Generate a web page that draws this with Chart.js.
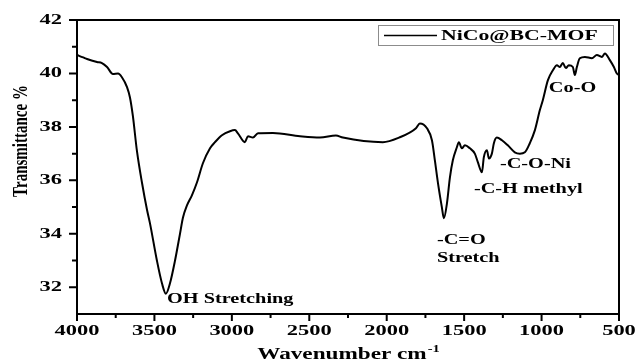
<!DOCTYPE html>
<html>
<head>
<meta charset="utf-8">
<title>FTIR NiCo@BC-MOF</title>
<script src="https://cdn.jsdelivr.net/npm/chart.js@4.4.1/dist/chart.umd.min.js"></script>
<style>
  html, body { margin: 0; padding: 0; background: #fff; }
  #wrap { width: 636px; height: 364px; }
</style>
</head>
<body>
<div id="wrap"><canvas id="ftir"></canvas></div>
<script>
// FTIR spectrum (wavenumber, cm-1 / transmittance, %)
var wavenumber = [
  4000, 3960, 3935, 3871, 3839, 3806, 3768, 3735, 3710, 3677, 3658, 3639, 3613, 3580,
  3548, 3529, 3484, 3451, 3426, 3400, 3367, 3335, 3316, 3290, 3258, 3225, 3187, 3141,
  3109, 3064, 3012, 2980, 2961, 2916, 2896, 2864, 2831, 2735, 2560, 2431, 2328, 2283,
  2025, 1921, 1811, 1786, 1740, 1708, 1689, 1669, 1644, 1631, 1611, 1592, 1573, 1547,
  1534, 1515, 1495, 1463, 1431, 1411, 1385, 1373, 1353, 1340, 1321, 1308, 1289, 1256,
  1218, 1173, 1140, 1108, 1076, 1043, 1011, 992, 959, 927, 901, 882, 863, 843,
  824, 798, 785, 772, 753, 720, 675, 643, 611, 591, 559, 533, 514, 500
];
var transmittance = [
  40.69, 40.6, 40.54, 40.43, 40.39, 40.24, 39.98, 40.0, 39.86, 39.49, 39.1, 38.4, 37.1, 35.9,
  34.9, 34.4, 33.0, 32.14, 31.76, 32.14, 33.0, 34.0, 34.6, 35.06, 35.44, 35.93, 36.64, 37.2,
  37.43, 37.69, 37.84, 37.88, 37.76, 37.43, 37.65, 37.6, 37.76, 37.77, 37.65, 37.6, 37.68, 37.6,
  37.43, 37.6, 37.95, 38.13, 37.95, 37.5, 36.75, 35.9, 35.0, 34.58, 35.14, 36.1, 36.75, 37.24,
  37.43, 37.2, 37.31, 37.2, 37.0, 36.67, 36.3, 36.86, 37.13, 36.82, 37.0, 37.39, 37.6, 37.5,
  37.31, 37.05, 37.0, 37.05, 37.39, 37.88, 38.63, 39.0, 39.75, 40.12, 40.31, 40.24, 40.39, 40.2,
  40.31, 40.24, 39.94, 40.24, 40.57, 40.62, 40.57, 40.69, 40.62, 40.75, 40.5, 40.24, 40.0, 39.94
];

// axis ticks
var xMajor = [4000, 3500, 3000, 2500, 2000, 1500, 1000, 500];
var xMinor = [3750, 3250, 2750, 2250, 1750, 1250, 750];
var yMajor = [32, 34, 36, 38, 40, 42];
var yMinor = [33, 35, 37, 39, 41];

// band assignments, anchored at (wavenumber, transmittance)
var bandText = ['OH Stretching', '-C=O', 'Stretch', '-C-H methyl', '-C-O-Ni', 'Co-O'];
var bandWn   = [3419, 1676, 1676, 1437, 1269, 953];
var bandT    = [31.54, 33.75, 33.08, 35.66, 36.6, 39.45];

var seriesName = 'NiCo@BC-MOF';

var SX = 1.45;            // horizontal text stretch
var FONT = '"Liberation Serif", "Times New Roman", serif';

function wideText(ctx, str, x, y, align, size, rotate) {
  ctx.save();
  ctx.translate(x, y);
  ctx.scale(SX, 1);
  if (rotate) ctx.rotate(-Math.PI / 2);
  ctx.font = 'bold ' + size + 'px ' + FONT;
  ctx.fillStyle = '#000';
  ctx.textAlign = align;
  ctx.textBaseline = 'middle';
  ctx.fillText(str, 0, 0);
  ctx.restore();
}

var decorations = {
  id: 'decorations',
  afterDraw: function(chart) {
    var ctx = chart.ctx;
    var a = chart.chartArea;
    var xs = chart.scales.x, ys = chart.scales.y;

    ctx.save();
    ctx.strokeStyle = '#000';
    ctx.lineWidth = 2;
    ctx.beginPath();
    ctx.moveTo(a.left, a.top); ctx.lineTo(a.right, a.top);
    ctx.lineTo(a.right, a.bottom);
    ctx.stroke();

    // ticks
    ctx.beginPath();
    xMajor.forEach(function(v) { var p = xs.getPixelForValue(v); ctx.moveTo(p, a.bottom); ctx.lineTo(p, a.bottom + 7); });
    xMinor.forEach(function(v) { var p = xs.getPixelForValue(v); ctx.moveTo(p, a.bottom); ctx.lineTo(p, a.bottom + 4); });
    yMajor.forEach(function(v) { var p = ys.getPixelForValue(v); ctx.moveTo(a.left, p); ctx.lineTo(a.left - 8, p); });
    yMinor.forEach(function(v) { var p = ys.getPixelForValue(v); ctx.moveTo(a.left, p); ctx.lineTo(a.left - 5, p); });
    ctx.stroke();
    ctx.restore();

    // tick labels
    xMajor.forEach(function(v) { wideText(ctx, String(v), xs.getPixelForValue(v), a.bottom + 17, 'center', 15.5); });
    yMajor.forEach(function(v) { wideText(ctx, String(v), a.left - 15, ys.getPixelForValue(v), 'right', 15.5); });

    // axis titles
    wideText(ctx, 'Transmittance %', 21, 141, 'center', 15, true);
    ctx.save();
    ctx.font = 'bold 16px ' + FONT;
    var w1 = ctx.measureText('Wavenumber cm').width;
    ctx.font = 'bold 10px ' + FONT;
    var w2 = ctx.measureText('-1').width;
    ctx.restore();
    var x0 = (a.left + a.right) / 2 - (w1 + w2) * SX / 2;
    wideText(ctx, 'Wavenumber cm', x0, 355, 'left', 16);
    wideText(ctx, '-1', x0 + w1 * SX + 1, 349, 'left', 10);

    // legend
    ctx.save();
    ctx.strokeStyle = '#8c8c8c';
    ctx.lineWidth = 1;
    ctx.strokeRect(378.5, 25.5, 235, 20);
    ctx.strokeStyle = '#000';
    ctx.lineWidth = 1.5;
    ctx.beginPath(); ctx.moveTo(384, 35.5); ctx.lineTo(437, 35.5); ctx.stroke();
    ctx.restore();
    wideText(ctx, seriesName, 441, 36, 'left', 15);

    // band labels
    bandText.forEach(function(t, i) {
      wideText(ctx, t, xs.getPixelForValue(bandWn[i]), ys.getPixelForValue(bandT[i]), 'left', 14);
    });
  }
};

var points = wavenumber.map(function(w, i) { return { x: w, y: transmittance[i] }; });

new Chart(document.getElementById('ftir'), {
  type: 'line',
  data: {
    datasets: [{
      label: seriesName,
      data: points,
      borderColor: '#000',
      borderWidth: 2,
      pointRadius: 0,
      cubicInterpolationMode: 'monotone',
      fill: false
    }]
  },
  options: {
    responsive: true,
    maintainAspectRatio: false,
    animation: false,
    layout: { padding: { top: 20, right: 17, left: 0, bottom: 0 } },
    plugins: { legend: { display: false }, tooltip: { enabled: false } },
    scales: {
      x: {
        type: 'linear',
        reverse: true,
        min: 500,
        max: 4000,
        ticks: { display: false, stepSize: 500 },
        grid: { display: false, drawTicks: false },
        border: { display: true, color: '#000', width: 2 },
        afterFit: function(s) { s.height = 50; }
      },
      y: {
        min: 31,
        max: 42,
        ticks: { display: false, stepSize: 1 },
        grid: { display: false, drawTicks: false },
        border: { display: true, color: '#000', width: 2 },
        afterFit: function(s) { s.width = 77; }
      }
    }
  },
  plugins: [decorations]
});
</script>
</body>
</html>
